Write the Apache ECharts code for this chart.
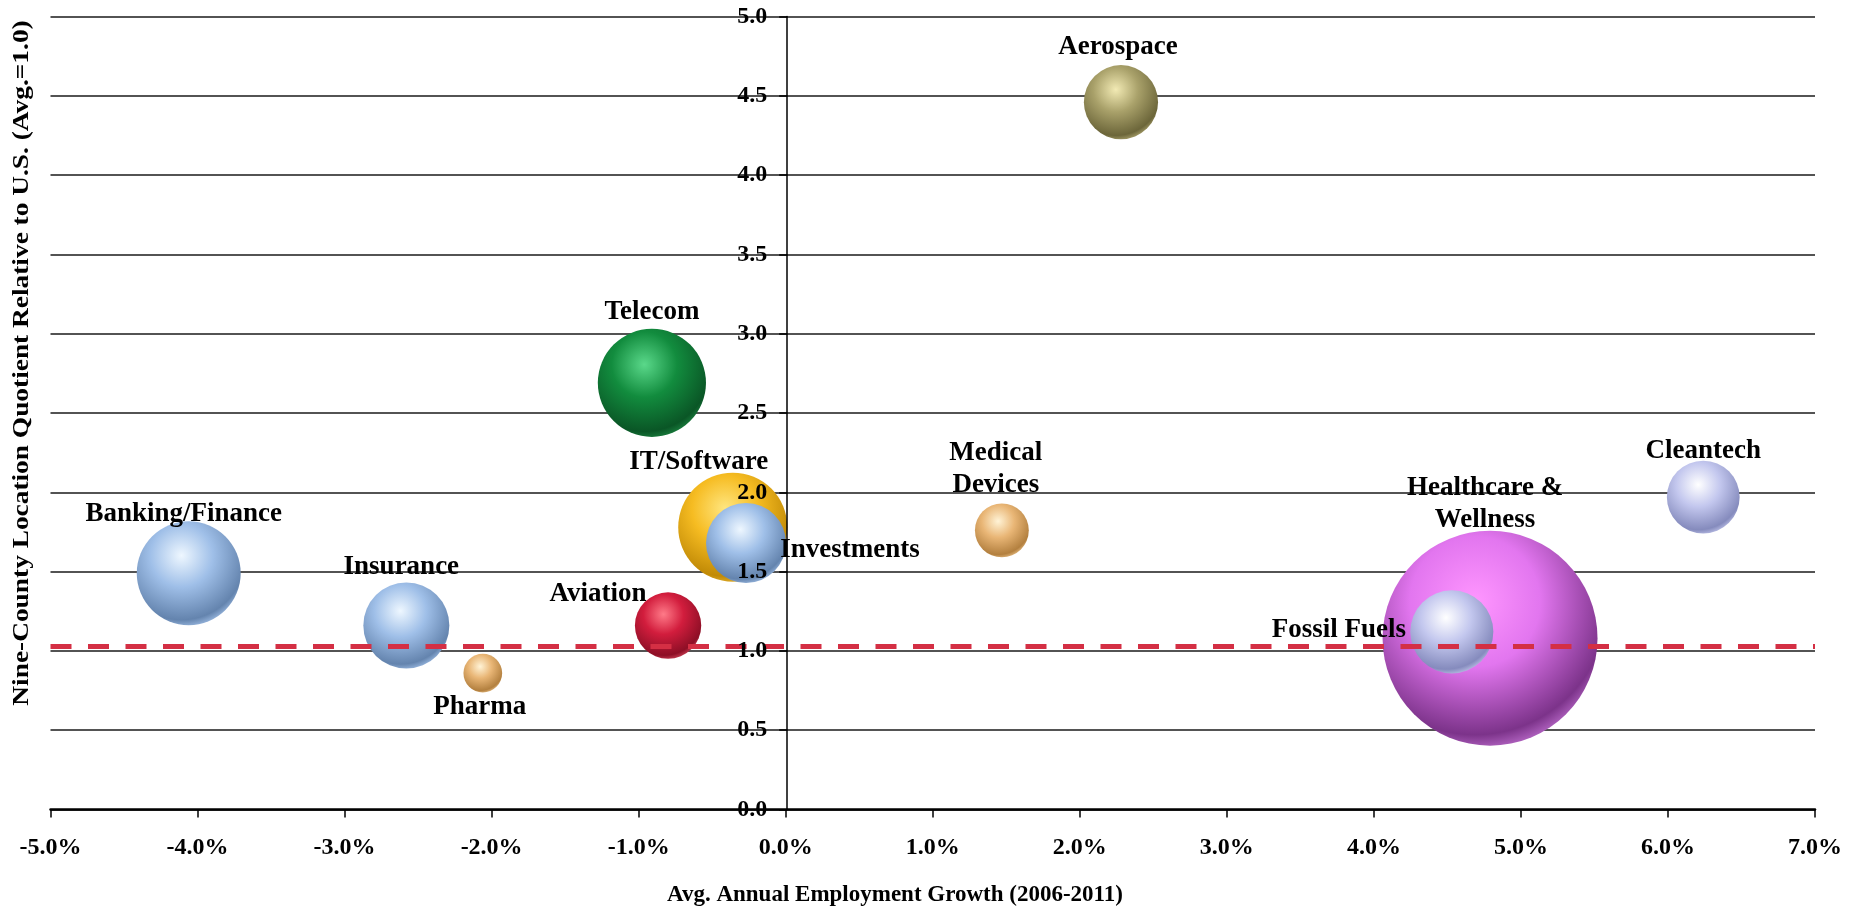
<!DOCTYPE html>
<html>
<head>
<meta charset="utf-8">
<title>Nine-County Industry Clusters</title>
<script src="https://cdn.jsdelivr.net/npm/echarts@6/dist/echarts.min.js"></script>
<style>
  html, body { margin: 0; padding: 0; background: #ffffff; }
  #chart { width: 1866px; height: 908px; }
</style>
</head>
<body>
<div id="chart"></div>
<script>
// Industry clusters: growth vs. location quotient, bubble area = cluster size
const sectors = [
  'Banking/Finance', 'Insurance', 'Pharma', 'Aviation', 'Telecom', 'IT/Software',
  'Investments', 'Medical\nDevices', 'Aerospace', 'Healthcare &\nWellness', 'Fossil Fuels', 'Cleantech'
];
const growthPct = [-4.06, -2.58, -2.06, -0.80, -0.91, -0.36, -0.27, 1.47, 2.28, 4.79, 4.53, 6.24];
const locationQuotient = [1.49, 1.16, 0.86, 1.16, 2.69, 1.78, 1.68, 1.76, 4.46, 1.08, 1.12, 1.97];
const clusterSize = [108, 74, 15, 44, 117, 119, 64, 29, 55, 462, 69, 53];
const usAverageLevel = 1.03;
const xTickRange = { min: -5, max: 7, step: 1 };
const yTickRange = { min: 0, max: 5, step: 0.5 };

// Sphere shading per sector: [highlight, body, shadow, rim]
const sphereTones = [
  ['#eef7ff', '#9fbfe8', '#6484ae', '#a9c7ee'],
  ['#eef7ff', '#9fbfe8', '#6484ae', '#a9c7ee'],
  ['#fff3d6', '#e9b676', '#b3803f', '#f0c890'],
  ['#ff7a88', '#d21d3d', '#8e0f26', '#d84a60'],
  ['#5ad88a', '#128c3e', '#0a5626', '#1f8a45'],
  ['#ffe680', '#f6bc22', '#c18a06', '#f0c040'],
  ['#eef7ff', '#9fbfe8', '#6484ae', '#a9c7ee'],
  ['#fff3d6', '#e9b676', '#b3803f', '#f0c890'],
  ['#f2eab4', '#a9a16a', '#6c663a', '#b8b078'],
  ['#ff96ff', '#e276ef', '#7c338a', '#c877d8'],
  ['#ffffff', '#c3c7ee', '#858bbd', '#c9ccf0'],
  ['#ffffff', '#c3c7ee', '#858bbd', '#c9ccf0']
];
// Label centre relative to bubble centre, in pixels
const labelOffsets = [
  [-5, -59], [-5, -58], [-3, 34], [-70, -31], [0, -71], [-34, -65],
  [104, 7], [-6, -61], [-3, -55], [-5, -134], [-113, -2], [0, -46]
];

function sphere(t) {
  return {
    type: 'radial', x: 0.43, y: 0.33, r: 0.72,
    colorStops: [
      { offset: 0, color: t[0] },
      { offset: 0.42, color: t[1] },
      { offset: 0.86, color: t[2] },
      { offset: 1, color: t[3] }
    ]
  };
}

const serif = '"Liberation Serif", "Times New Roman", serif';
const gridLeft = 50.5;

const bubbles = sectors.map((name, i) => ({
  name: name,
  value: [growthPct[i], locationQuotient[i], clusterSize[i]],
  itemStyle: { color: sphere(sphereTones[i]) },
  label: { offset: labelOffsets[i] }
}));

const chart = echarts.init(document.getElementById('chart'), null, { renderer: 'canvas' });

chart.setOption({
  animation: false,
  backgroundColor: '#ffffff',
  grid: { left: gridLeft, right: 51, top: 16.5, bottom: 98.5, containLabel: false },
  xAxis: {
    type: 'value',
    min: xTickRange.min, max: xTickRange.max, interval: xTickRange.step,
    axisLine: { show: true, onZero: false, lineStyle: { color: '#000', width: 2.5 } },
    axisTick: { show: true, inside: false, length: 8, lineStyle: { color: '#000', width: 1.5 } },
    axisLabel: {
      margin: 26,
      formatter: v => v.toFixed(1) + '%',
      fontFamily: serif, fontWeight: 'bold', fontSize: 24, color: '#000'
    },
    splitLine: { show: false }
  },
  yAxis: [
    {
      // horizontal grid lines, kept beneath the bubbles
      type: 'value', position: 'right',
      min: yTickRange.min, max: yTickRange.max, interval: yTickRange.step,
      axisLine: { show: false, onZero: false }, axisTick: { show: false }, axisLabel: { show: false },
      splitLine: { show: true, lineStyle: { color: '#1a1a1a', width: 1.5 } }
    },
    {
      // vertical axis crossing at 0 %, drawn above the bubbles
      type: 'value', position: 'left', z: 10, offset: 0,
      min: yTickRange.min, max: yTickRange.max, interval: yTickRange.step,
      axisLine: { show: true, onZero: false, lineStyle: { color: '#000', width: 1.5 } },
      axisTick: { show: true, inside: false, length: 8, lineStyle: { color: '#000', width: 1.5 } },
      axisLabel: {
        margin: 20,
        formatter: v => v.toFixed(1),
        fontFamily: serif, fontWeight: 'bold', fontSize: 24, color: '#000'
      },
      splitLine: { show: false }
    }
  ],
  graphic: [
    {
      type: 'text', x: 22, y: 363, rotation: Math.PI / 2, scaleX: 1.14, z: 20,
      style: {
        text: 'Nine-County Location Quotient Relative to U.S. (Avg.=1.0)',
        font: 'bold 24px ' + serif, fill: '#000',
        align: 'center', verticalAlign: 'middle'
      }
    },
    {
      type: 'text', x: 895, y: 895, z: 20,
      style: {
        text: 'Avg. Annual Employment Growth (2006-2011)',
        font: 'bold 23px ' + serif, fill: '#000',
        align: 'center', verticalAlign: 'middle'
      }
    }
  ],
  series: [
    {
      type: 'scatter',
      yAxisIndex: 0,
      z: 3,
      silent: true,
      data: bubbles,
      symbol: 'circle',
      symbolSize: d => 10 * Math.sqrt(d[2]),
      itemStyle: { opacity: 1 },
      label: {
        show: true,
        position: 'inside',
        formatter: p => p.name,
        fontFamily: serif, fontWeight: 'bold', fontSize: 27, color: '#000',
        lineHeight: 32, align: 'center', verticalAlign: 'middle'
      },
      emphasis: { disabled: true }
    },
    {
      type: 'line',
      yAxisIndex: 0,
      z: 6,
      silent: true,
      data: [],
      markLine: {
        silent: true,
        symbol: ['none', 'none'],
        label: { show: false },
        lineStyle: { color: '#d42f44', width: 5, type: [21, 16.5] },
        data: [{ yAxis: usAverageLevel }]
      }
    }
  ]
});

// Move the vertical axis (line, ticks and labels) onto the 0 % position of the x scale
const zeroX = chart.convertToPixel({ xAxisIndex: 0 }, 0);
chart.setOption({ yAxis: [{}, { offset: -(zeroX - gridLeft) }] });
</script>
</body>
</html>
